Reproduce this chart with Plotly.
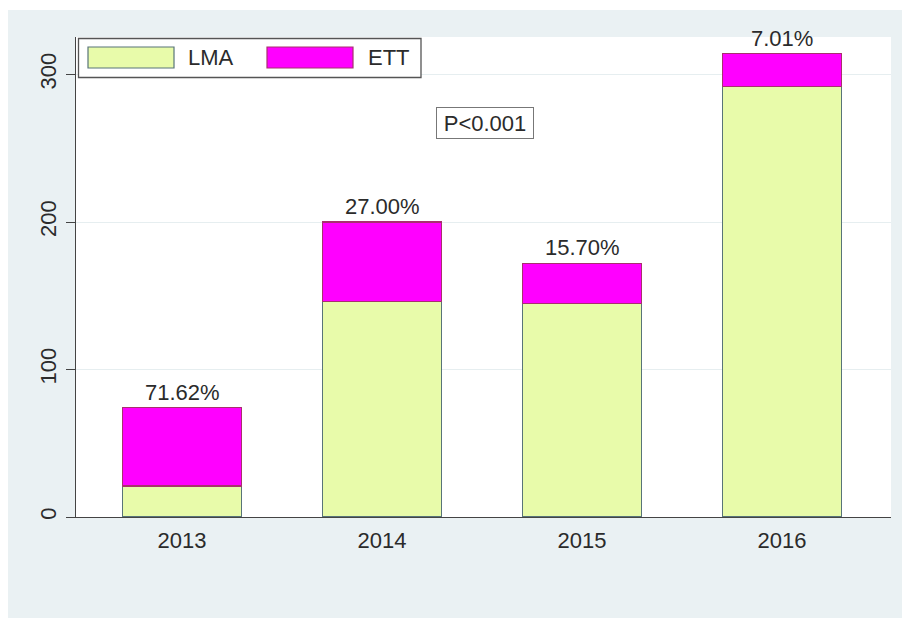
import plotly.graph_objects as go

years = ["2013", "2014", "2015", "2016"]
lma = [21, 146, 145, 292]
ett = [53, 54, 27, 22]
pct_labels = ["71.62%", "27.00%", "15.70%", "7.01%"]
y_ticks = [0, 100, 200, 300]

W, H = 902, 623
L, R, T, B = 76, 891, 37, 517
PW, PH = R - L, B - T

def px(x):
    return (x - L) / PW

def py(y):
    return (B - y) / PH

FONT = "Arial, Liberation Sans, sans-serif"
TXT = "#2b2b2b"
BG = "#EAF1F3"
LMA_FILL, LMA_LINE = "#E8FBAA", "#587478"
ETT_FILL, ETT_LINE = "#FF00FF", "#A8306E"
FS = 22

fig = go.Figure()
fig.add_trace(go.Bar(x=years, y=lma, name="LMA", width=0.595,
                     marker=dict(color=LMA_FILL, line=dict(color=LMA_LINE, width=1.2)),
                     showlegend=False))
fig.add_trace(go.Bar(x=years, y=ett, name="ETT", width=0.595,
                     marker=dict(color=ETT_FILL, line=dict(color=ETT_LINE, width=1.2)),
                     showlegend=False))

ann = []
for i, (a, b, lab) in enumerate(zip(lma, ett, pct_labels)):
    ann.append(dict(x=i, y=a + b, xref="x", yref="y", text=lab, showarrow=False,
                    yanchor="bottom", yshift=1,
                    font=dict(family=FONT, size=FS, color=TXT)))

ann.append(dict(xref="paper", yref="paper", x=px(484.5), y=py(123), text="P<0.001",
                showarrow=False, xanchor="center", yanchor="middle",
                width=90, height=24, align="center",
                font=dict(family=FONT, size=FS, color=TXT),
                bordercolor="#777777", borderwidth=1, borderpad=3, bgcolor="white"))

# legend text
ann.append(dict(xref="paper", yref="paper", x=px(186), y=py(58), text="LMA", showarrow=False,
                xanchor="left", yanchor="middle", font=dict(family=FONT, size=FS, color=TXT)))
ann.append(dict(xref="paper", yref="paper", x=px(366), y=py(58), text="ETT", showarrow=False,
                xanchor="left", yanchor="middle", font=dict(family=FONT, size=FS, color=TXT)))

shapes = [
    dict(type="rect", xref="paper", yref="paper", layer="below",
         x0=px(8), x1=px(902), y0=py(618), y1=py(10), fillcolor=BG, line=dict(width=0)),
    dict(type="rect", xref="paper", yref="paper", layer="below",
         x0=0, x1=1, y0=0, y1=1, fillcolor="white", line=dict(width=0)),
    # legend box
    dict(type="rect", xref="paper", yref="paper",
         x0=px(78.5), x1=px(421), y0=py(77.5), y1=py(38.5), fillcolor="white",
         line=dict(color="#555555", width=1.3)),
    dict(type="rect", xref="paper", yref="paper",
         x0=px(88), x1=px(174), y0=py(68), y1=py(47), fillcolor=LMA_FILL,
         line=dict(color=LMA_LINE, width=1.2)),
    dict(type="rect", xref="paper", yref="paper",
         x0=px(267), x1=px(353), y0=py(68), y1=py(47), fillcolor=ETT_FILL,
         line=dict(color=ETT_LINE, width=1.2)),
]

fig.update_layout(
    width=W, height=H,
    margin=dict(l=L, r=W - R, t=T, b=H - B, pad=0),
    paper_bgcolor="white", plot_bgcolor="white",
    barmode="stack", bargap=0.4,
    annotations=ann, shapes=shapes,
    font=dict(family=FONT, size=FS, color=TXT),
)
fig.update_xaxes(type="category", range=[-0.53, 3.545], showgrid=False,
                 showline=True, linecolor="#444444", linewidth=1.3,
                 ticks="", tickfont=dict(family=FONT, size=FS, color=TXT),
                 ticklabelstandoff=3)
fig.update_yaxes(range=[0, (B - T) / 1.475], tickvals=y_ticks, ticktext=[str(v) for v in y_ticks],
                 showgrid=True, gridcolor="#E6EEF0", gridwidth=1, zeroline=False,
                 showline=True, linecolor="#444444", linewidth=1.3,
                 ticks="outside", ticklen=9, tickcolor="#444444", tickwidth=1.3,
                 tickangle=-90, tickfont=dict(family=FONT, size=FS, color=TXT),
                 ticklabelstandoff=1)

fig.write_html("out.html")
